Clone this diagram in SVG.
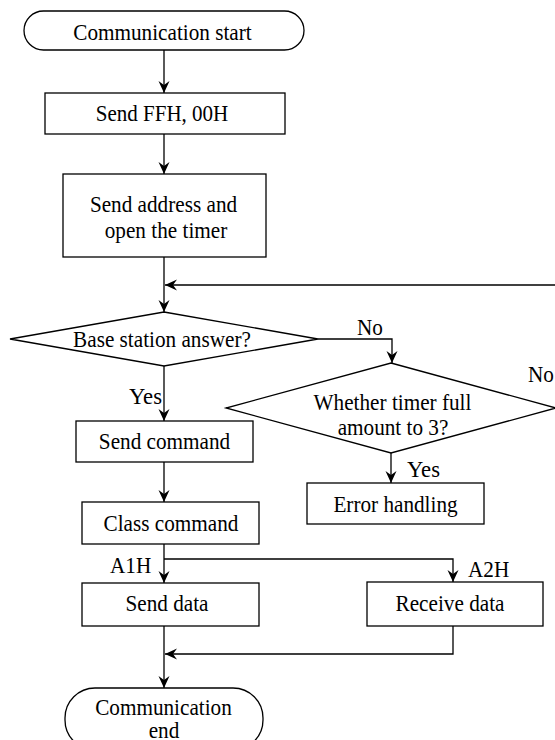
<svg xmlns="http://www.w3.org/2000/svg" width="555" height="740" viewBox="0 0 555 740">
<style>
.s{fill:#fff;stroke:#000;stroke-width:1.3}
.t{font-family:"Liberation Serif","Times New Roman",serif;font-size:22.5px;fill:#000;text-anchor:middle}
.l{font-family:"Liberation Serif","Times New Roman",serif;font-size:22.5px;fill:#000}
.c{fill:none;stroke:#000;stroke-width:1.3}
</style>
<defs>
<marker id="ah" viewBox="-13 -7 14 14" refX="0" refY="0" markerWidth="14" markerHeight="14" orient="auto" markerUnits="userSpaceOnUse">
<path d="M0,0 L-12,-5.5 L-8,0 L-12,5.5 Z" fill="#000"/>
</marker>
</defs>
<rect width="555" height="740" fill="#fff"/>
<g id="connectors">
<path class="c" d="M164,50 V93" marker-end="url(#ah)"/>
<path class="c" d="M164,134 V174" marker-end="url(#ah)"/>
<path class="c" d="M164,257 V312" marker-end="url(#ah)"/>
<path class="c" d="M556,285 H165" marker-end="url(#ah)"/>
<path class="c" d="M164,366 V421" marker-end="url(#ah)"/>
<path class="c" d="M318,339 H392 V363" marker-end="url(#ah)"/>
<path class="c" d="M391,453 V483" marker-end="url(#ah)"/>
<path class="c" d="M164,462 V502" marker-end="url(#ah)"/>
<path class="c" d="M164,544 V583" marker-end="url(#ah)"/>
<path class="c" d="M164,559 H453 V582" marker-end="url(#ah)"/>
<path class="c" d="M164,626 V688" marker-end="url(#ah)"/>
<path class="c" d="M453,626 V654 H165" marker-end="url(#ah)"/>
<text class="l" x="357" y="335" textLength="25.9" lengthAdjust="spacingAndGlyphs">No</text>
<text class="l" x="528" y="382" textLength="25.9" lengthAdjust="spacingAndGlyphs">No</text>
<text class="l" x="129" y="404" textLength="33" lengthAdjust="spacingAndGlyphs">Yes</text>
<text class="l" x="407" y="477" textLength="33" lengthAdjust="spacingAndGlyphs">Yes</text>
<text class="l" x="110" y="573" textLength="41.2" lengthAdjust="spacingAndGlyphs">A1H</text>
<text class="l" x="468" y="577" textLength="41.2" lengthAdjust="spacingAndGlyphs">A2H</text>
</g>
<g id="start">
<rect class="s" x="24" y="11" width="280" height="39" rx="19.5"/>
<text class="t" x="162.5" y="39.5" textLength="178.4" lengthAdjust="spacingAndGlyphs">Communication start</text>
</g>
<g id="sendFFH">
<rect class="s" x="45" y="93" width="240" height="41"/>
<text class="t" x="162" y="121" textLength="132.6" lengthAdjust="spacingAndGlyphs">Send FFH, 00H</text>
</g>
<g id="sendAddress">
<rect class="s" x="63" y="174" width="203" height="83"/>
<text class="t" x="163.5" y="211.5" textLength="147.2" lengthAdjust="spacingAndGlyphs">Send address and</text>
<text class="t" x="166" y="238" textLength="122.5" lengthAdjust="spacingAndGlyphs">open the timer</text>
</g>
<g id="baseAnswer">
<polygon class="s" points="164,312 318,339 164,366 10,339"/>
<text class="t" x="162" y="347" textLength="177.8" lengthAdjust="spacingAndGlyphs">Base station answer?</text>
</g>
<g id="timerFull">
<polygon class="s" points="391,363 556,408 391,453 226,408"/>
<text class="t" x="392.5" y="410" textLength="157.8" lengthAdjust="spacingAndGlyphs">Whether timer full</text>
<text class="t" x="393" y="434.5" textLength="110.7" lengthAdjust="spacingAndGlyphs">amount to 3?</text>
</g>
<g id="sendCommand">
<rect class="s" x="76" y="421" width="177" height="41"/>
<text class="t" x="164.5" y="449" textLength="131.3" lengthAdjust="spacingAndGlyphs">Send command</text>
</g>
<g id="errorHandling">
<rect class="s" x="307" y="483" width="177" height="41"/>
<text class="t" x="395.5" y="512" textLength="124.2" lengthAdjust="spacingAndGlyphs">Error handling</text>
</g>
<g id="classCommand">
<rect class="s" x="82" y="502" width="177" height="42"/>
<text class="t" x="171" y="531" textLength="134.9" lengthAdjust="spacingAndGlyphs">Class command</text>
</g>
<g id="sendData">
<rect class="s" x="82" y="583" width="177" height="43"/>
<text class="t" x="167" y="611" textLength="83" lengthAdjust="spacingAndGlyphs">Send data</text>
</g>
<g id="receiveData">
<rect class="s" x="367" y="582" width="176" height="44"/>
<text class="t" x="450" y="611" textLength="108.9" lengthAdjust="spacingAndGlyphs">Receive data</text>
</g>
<g id="end">
<rect class="s" x="65" y="688" width="198" height="62" rx="30"/>
<text class="t" x="163.5" y="715" textLength="136.6" lengthAdjust="spacingAndGlyphs">Communication</text>
<text class="t" x="164" y="737.5" textLength="30.6" lengthAdjust="spacingAndGlyphs">end</text>
</g>
</svg>
